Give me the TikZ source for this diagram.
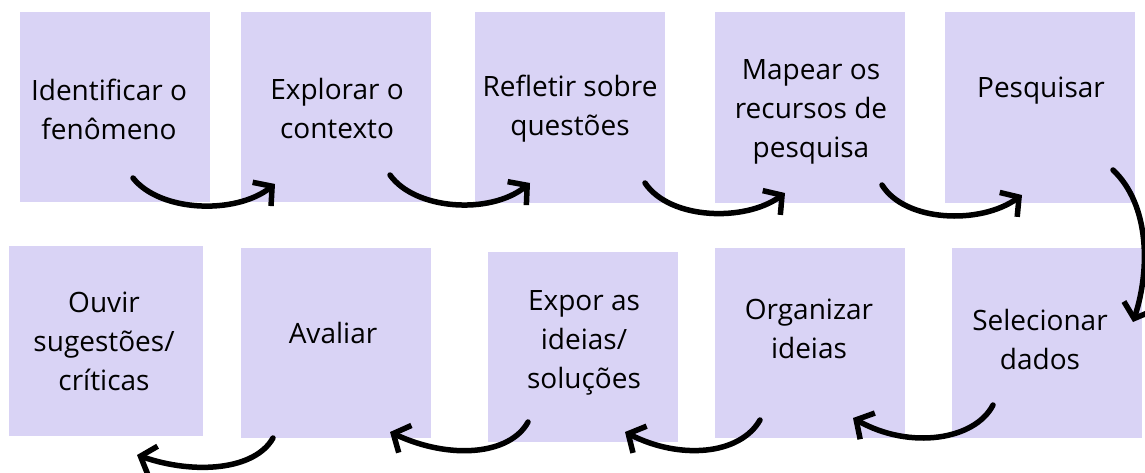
\documentclass[tikz,border=0pt]{standalone}
\usepackage{fontspec}
\setmainfont{Open Sans}
\usetikzlibrary{arrows.meta}
\definecolor{lilas}{HTML}{D9D3F5}
\tikzset{
  etapa/.style={fill=lilas, minimum width=190pt, minimum height=190pt, inner sep=0pt},
  rotulo/.style={align=center, inner sep=0pt, font=\fontsize{28}{39}\selectfont},
  seta/.style={line width=5.5pt, line cap=round, -{Straight Barb[length=13pt, width=30pt]}}
}
\begin{document}
\begin{tikzpicture}[x=1pt, y=-1pt]
    \useasboundingbox (0,0) rectangle (1145,473);

    \node[etapa] (b1) at (115, 107) {};
    \node[etapa] (b2) at (336, 107) {};
    \node[etapa] (b3) at (570, 107.5) {};
    \node[etapa] (b4) at (810, 107.5) {};
    \node[etapa] (b5) at (1040, 107.5) {};

    \node[etapa, minimum width=194pt] (b6) at (106, 341) {};
    \node[etapa] (b7) at (336, 343) {};
    \node[etapa] (b8) at (583, 346.5) {};
    \node[etapa] (b9) at (810, 343) {};
    \node[etapa] (b10) at (1047, 343) {};

    \node[rotulo] (t1) at (109, 109) {Identificar o\\fenômeno};
    \node[rotulo] (t2) at (337, 109) {Explorar o\\contexto};
    \node[rotulo] (t3) at (570, 109) {Refletir sobre\\questões};
    \node[rotulo] (t4) at (811, 112) {Mapear os\\recursos de\\pesquisa};
    \node[rotulo] (t5) at (1041, 91) {Pesquisar};

    \node[rotulo] (t6) at (104, 341) {Ouvir\\sugestões/\\críticas};
    \node[rotulo] (t7) at (333, 333) {Avaliar};
    \node[rotulo] (t8) at (584, 343) {Expor as\\ideias/\\soluções};
    \node[rotulo] (t9) at (809, 329) {Organizar\\ideias};
    \node[rotulo] (t10) at (1040, 339) {Selecionar\\dados};

    \coordinate (s1) at (133, 178);  \coordinate (e1) at (275, 184);
    \coordinate (s2) at (390, 175);  \coordinate (e2) at (530, 183);
    \coordinate (s3) at (645, 183);  \coordinate (e3) at (785, 193);
    \coordinate (s4) at (882, 185);  \coordinate (e4) at (1022, 195);
    \coordinate (s5) at (1113, 170); \coordinate (e5) at (1133, 322);
    \coordinate (s6) at (993, 405);  \coordinate (e6) at (853, 418);
    \coordinate (s7) at (760, 420);  \coordinate (e7) at (625, 432);
    \coordinate (s8) at (528, 422);  \coordinate (e8) at (390, 432);
    \coordinate (s9) at (273, 438);  \coordinate (e9) at (137, 455);

    \begin{scope}[every path/.style={seta}]
       \draw (s1) .. controls (160, 212) and (235, 215) .. (e1);
       \draw (s2) .. controls (415, 210) and (490, 215) .. (e2);
       \draw (s3) .. controls (670, 220) and (745, 222) .. (e3);
       \draw (s4) .. controls (905, 222) and (980, 225) .. (e4);
       \draw (s5) .. controls (1150, 205) and (1150, 270) .. (e5);
       \draw (s6) .. controls (975, 440) and (910, 450) .. (e6);
       \draw (s7) .. controls (740, 455) and (680, 460) .. (e7);
       \draw (s8) .. controls (510, 455) and (450, 460) .. (e8);
       \draw (s9) .. controls (255, 470) and (195, 475) .. (e9);
    \end{scope}
\end{tikzpicture}
\end{document}
